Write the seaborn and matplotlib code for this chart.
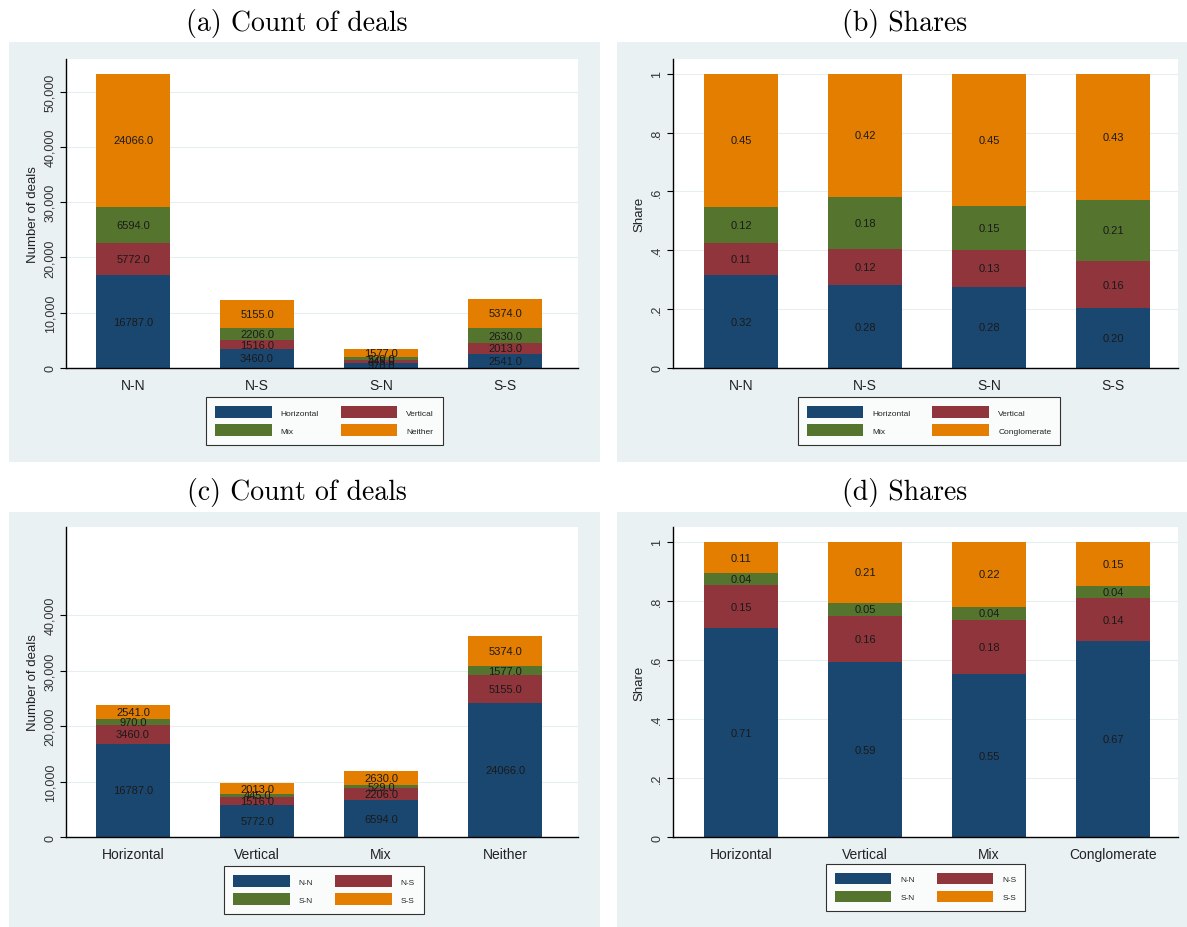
import numpy as np
import pandas as pd
import seaborn as sns
import matplotlib
matplotlib.use("Agg")
import matplotlib.pyplot as plt
from matplotlib.patches import Rectangle, Patch

# Deal counts by country pair (rows) and deal type (series)
pairs = ["N-N", "N-S", "S-N", "S-S"]
deal_types = ["Horizontal", "Vertical", "Mix", "Neither"]
deal_types_share = ["Horizontal", "Vertical", "Mix", "Conglomerate"]
horizontal = [16787, 3460, 970, 2541]
vertical = [5772, 1516, 445, 2013]
mix = [6594, 2206, 529, 2630]
neither = [24066, 5155, 1577, 5374]

count_ticks = [0, 10000, 20000, 30000, 40000, 50000]
count_ticks_c = [0, 10000, 20000, 30000, 40000]
share_ticks = [0, 0.2, 0.4, 0.6, 0.8, 1.0]
share_tick_labels = ["0", ".2", ".4", ".6", ".8", "1"]

colors = ["#1a476f", "#90353b", "#55752f", "#e37e00"]
region_bg = "#eaf1f3"
grid_col = "#e6eef0"

sns.set_theme(style="white")
plt.rcParams["font.family"] = ["Liberation Sans", "DejaVu Sans"]

W, H = 1187, 928
fig = plt.figure(figsize=(W / 100, H / 100), dpi=100)
fig.patch.set_facecolor("white")


def fig_rect(x0, y0, x1, y1):
    return [x0 / W, 1 - y1 / H, (x1 - x0) / W, (y1 - y0) / H]


def region(x0, y0, x1, y1):
    l, b, w, h = fig_rect(x0, y0, x1, y1)
    fig.add_artist(Rectangle((l, b), w, h, transform=fig.transFigure,
                             facecolor=region_bg, edgecolor="none", zorder=0))


def stacked_panel(ax, cats, layers, fmt, ymax, yticks, ytick_labels,
                  ylabel, first_center_px, unit_px, width_px):
    layers = np.array(layers, dtype=float)
    cum = np.cumsum(layers, axis=0)
    # draw cumulative totals from the top layer down so each segment shows
    for k in range(len(layers) - 1, -1, -1):
        df = pd.DataFrame({"cat": cats, "val": cum[k]})
        sns.barplot(data=df, x="cat", y="val", order=cats, color=colors[k],
                    saturation=1, width=0.6, errorbar=None, ax=ax,
                    linewidth=0, zorder=2)
    for k in range(len(layers)):
        for i in range(len(cats)):
            bottom = cum[k][i] - layers[k][i]
            ax.text(i, bottom + layers[k][i] / 2, fmt.format(layers[k][i]),
                    ha="center", va="center", fontsize=8, color="#1a1a1a", zorder=3)
    left = -first_center_px / unit_px
    ax.set_xlim(left, left + width_px / unit_px)
    ax.set_ylim(0, ymax)
    ax.set_yticks(yticks)
    ax.set_yticklabels(ytick_labels)
    for lab in ax.get_yticklabels():
        lab.set_rotation(90)
        lab.set_va("center")
    ax.set_xlabel("")
    ax.set_ylabel(ylabel, fontsize=9.5, color="#222222", labelpad=4)
    ax.tick_params(axis="y", direction="out", length=4, width=0.8, color="black",
                   labelsize=9, labelcolor="#333333", pad=3, left=True)
    ax.tick_params(axis="x", length=0, labelsize=10, labelcolor="#222222", pad=7)
    ax.set_facecolor("white")
    ax.yaxis.grid(True, color=grid_col, linewidth=0.8, zorder=0)
    ax.xaxis.grid(False)
    ax.set_axisbelow(True)
    for s in ["top", "right"]:
        ax.spines[s].set_visible(False)
    for s in ["left", "bottom"]:
        ax.spines[s].set_color("black")
        ax.spines[s].set_linewidth(1.0)
        ax.spines[s].set_zorder(4)


def add_legend(ax, names, cx, cy):
    handles = [Patch(facecolor=c, edgecolor="none") for c in colors]
    order = [0, 2, 1, 3]
    leg = ax.legend([handles[i] for i in order], [names[i] for i in order],
                    ncol=2, loc="center", bbox_to_anchor=(cx / W, 1 - cy / H),
                    bbox_transform=fig.transFigure, frameon=True, fancybox=False,
                    fontsize=6, handlelength=6.8, handleheight=1.8,
                    handletextpad=1.1, columnspacing=2.6, labelspacing=0.75,
                    borderpad=1.05, borderaxespad=0)
    fr = leg.get_frame()
    fr.set_edgecolor("black")
    fr.set_linewidth(0.8)
    fr.set_facecolor("white")
    for t in leg.get_texts():
        t.set_color("#222222")


# panel regions
region(9, 43, 600, 463)
region(617, 43, 1187, 463)
region(9, 513, 600, 928)
region(617, 513, 1187, 928)

count_labels = [f"{v:,}" for v in count_ticks]
count_labels_c = [f"{v:,}" for v in count_ticks_c]
ymax_count = max(np.sum([horizontal, vertical, mix, neither], axis=0)) * 1.05

# (a) counts by country pair
by_type = np.array([horizontal, vertical, mix, neither], dtype=float)
ax_a = fig.add_axes(fig_rect(66, 60, 578, 369))
stacked_panel(ax_a, pairs, by_type, "{:.1f}", ymax_count, count_ticks,
              count_labels, "Number of deals", 67, 124, 512)
add_legend(ax_a, deal_types, 324.5, 422)

# (b) shares by country pair
shares_b = by_type / by_type.sum(axis=0)
ax_b = fig.add_axes(fig_rect(673, 60, 1178, 369))
stacked_panel(ax_b, pairs, shares_b, "{:.2f}", 1.05, share_ticks,
              share_tick_labels, "Share", 68, 124, 505)
add_legend(ax_b, deal_types_share, 929, 422)

# (c) counts by deal type
by_pair = by_type.T
ax_c = fig.add_axes(fig_rect(66, 528, 578, 838))
stacked_panel(ax_c, deal_types, by_pair, "{:.1f}", ymax_count, count_ticks_c,
              count_labels_c, "Number of deals", 67, 124, 512)
add_legend(ax_c, pairs, 324, 891)

# (d) shares by deal type
shares_d = by_pair / by_pair.sum(axis=0)
ax_d = fig.add_axes(fig_rect(673, 528, 1178, 838))
stacked_panel(ax_d, deal_types_share, shares_d, "{:.2f}", 1.05, share_ticks,
              share_tick_labels, "Share", 68, 124, 505)
add_legend(ax_d, pairs, 925.5, 888.5)

# panel titles
for txt, x, y in [("(a) Count of deals", 297, 24), ("(b) Shares", 905, 24),
                  ("(c) Count of deals", 297, 493), ("(d) Shares", 905, 493)]:
    fig.text(x / W, 1 - y / H, txt, ha="center", va="center", fontsize=20,
             family="cmr10", color="black")

fig.savefig("out.png", dpi=100, facecolor="white")
